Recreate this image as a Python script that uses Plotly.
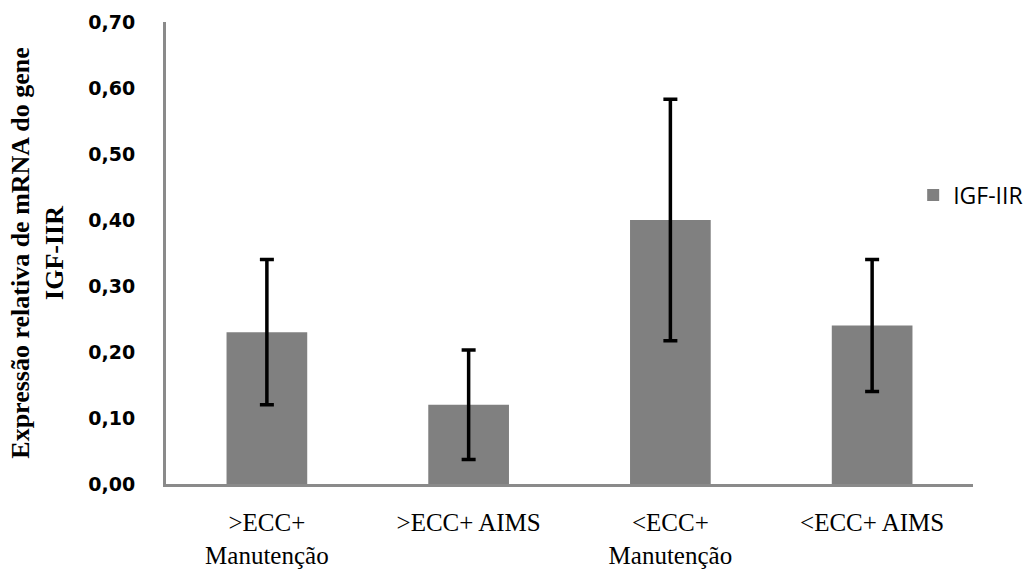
import plotly.graph_objects as go

categories = [">ECC+<br>Manutenção", ">ECC+ AIMS", "<ECC+<br>Manutenção", "<ECC+ AIMS"]
values = [0.23, 0.12, 0.40, 0.24]
errors = [0.11, 0.083, 0.183, 0.10]
series_name = "IGF-IIR"
y_ticks = [0.0, 0.1, 0.2, 0.3, 0.4, 0.5, 0.6, 0.7]

fig = go.Figure()
fig.add_trace(go.Bar(
    x=categories, y=values, name=series_name,
    marker=dict(color="#808080", line=dict(width=0)),
    width=0.40,
    error_y=dict(type="data", array=errors, visible=True,
                 color="#000000", thickness=3.5, width=7),
    showlegend=True,
))

fig.update_layout(
    width=1033, height=576,
    margin=dict(l=166, r=60, t=22, b=92, autoexpand=False),
    paper_bgcolor="white", plot_bgcolor="white",
    separators=",.",
    showlegend=True,
    legend=dict(xref="container", yref="container", x=0.884, y=1 - 195 / 576,
                xanchor="left", yanchor="middle",
                font=dict(family="Open Sans", size=23, color="#000000"),
                bgcolor="rgba(0,0,0,0)"),
    bargap=0.6,
)

fig.update_yaxes(
    range=[0, 0.70], tickvals=y_ticks, tickformat=".2f",
    showgrid=False, zeroline=False,
    showline=True, linecolor="#8a8a8a", linewidth=3,
    ticks="", ticklabelstandoff=24,
    tickfont=dict(family="DejaVu Sans", size=19, color="#000000", weight="bold"),
    title=dict(text="Expressão relativa de mRNA do gene<br>IGF-IIR",
               font=dict(family="Liberation Serif", size=26, color="#000000", weight="bold"),
               standoff=18),
    automargin=False,
)
fig.update_xaxes(
    showgrid=False, zeroline=False,
    showline=True, linecolor="#8a8a8a", linewidth=3,
    ticks="", ticklabelstandoff=14,
    tickfont=dict(family="Liberation Serif", size=25, color="#000000"),
    automargin=False,
)

fig.write_html("out.html")
